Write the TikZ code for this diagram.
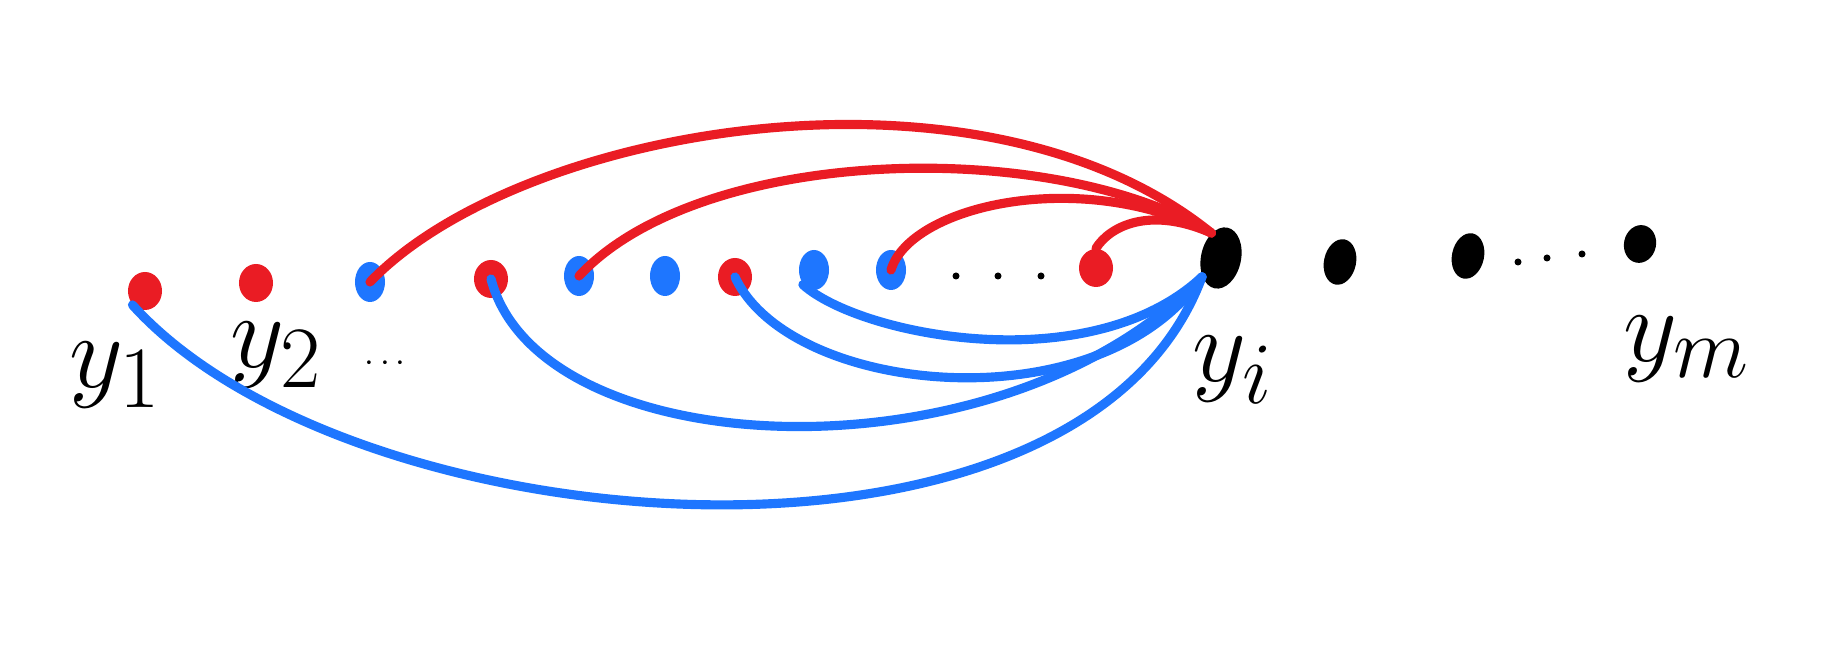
\documentclass[tikz,border=0pt]{standalone}
\usepackage{amsmath,amssymb}
\usepackage{xcolor}
\usepackage{tikz}
\usetikzlibrary{shapes.geometric,positioning}
\definecolor{penred}{RGB}{234,28,36}
\definecolor{penblue}{RGB}{30,118,255}

\begin{document}
\begin{tikzpicture}[x=0.01cm, y=0.01cm,
  reddot/.style={ellipse, fill=penred, minimum width=3.4mm, minimum height=3.8mm, inner sep=0pt},
  bluedot/.style={ellipse, fill=penblue, minimum width=3mm, minimum height=4mm, inner sep=0pt},
  blackdot/.style={ellipse, fill=black, minimum width=3.2mm, minimum height=4.6mm, inner sep=0pt, rotate=-12},
  tinydot/.style={circle, fill=black, minimum size=0.7mm, inner sep=0pt},
  redline/.style={draw=penred, line width=2.6pt, line cap=round},
  blueline/.style={draw=penblue, line width=2.6pt, line cap=round},
  lbl/.style={font=\Huge, scale=1.2}
]
\useasboundingbox (0,0) rectangle (1824,646);

% row of points
\node[reddot] (y1) at (145,355) {};
\node[reddot] (y2) at (256,363) {};
\node[bluedot] (b3) at (370,364) {};
\node[reddot] (r4) at (491,367) {};
\node[bluedot] (b5) at (579,370) {};
\node[bluedot] (b6) at (665,370) {};
\node[reddot] (r7) at (735,369) {};
\node[bluedot] (b8) at (814,376) {};
\node[bluedot] (b9) at (891,376) {};
\foreach \x [count=\k] in {956,998,1041}
  \node[tinydot] (d\k) at (\x,370) {};
\node[reddot] (r10) at (1096,378) {};
\node[blackdot, minimum width=4mm, minimum height=6.2mm] (yi) at (1221,388) {};
\node[blackdot] (k2) at (1340,384) {};
\node[blackdot] (k3) at (1468,390) {};
\foreach \x/\y [count=\k] in {1518/384,1547/388,1582/392}
  \node[tinydot] (e\k) at (\x,\y) {};
\node[blackdot, minimum width=3.2mm, minimum height=3.8mm] (ym) at (1640,402) {};

% labels
\node[lbl] (ly1) at (116,271) {$y_1$};
\node[lbl] (ly2) at (277,291) {$y_2$};
\node (ldots) at (388,282) {$\cdots$};
\node[lbl] (lyi) at (1233,276) {$y_i$};
\node[lbl] (lym) at (1687,297) {$y_m$};

% red arcs into y_i
\draw[redline] (b3.center) .. controls (520,520) and (980,600) .. (yi.north west);
\draw[redline] (b5.center) .. controls (700,500) and (1050,510) .. (yi.north west);
\draw[redline] (b9.center) .. controls (910,440) and (1080,480) .. (yi.north west);
\draw[redline] (r10.north) .. controls (1110,420) and (1150,440) .. (yi.north west);

% blue arcs out of y_i
\draw[blueline] (y1.south west) .. controls (350,100) and (1080,40) .. (yi.south west);
\draw[blueline] (r4.center) .. controls (540,180) and (1000,160) .. (yi.south west);
\draw[blueline] (r7.center) .. controls (790,250) and (1100,220) .. (yi.south west);
\draw[blueline] (b8.south west) .. controls (860,310) and (1090,265) .. (yi.south west);
\end{tikzpicture}
\end{document}
